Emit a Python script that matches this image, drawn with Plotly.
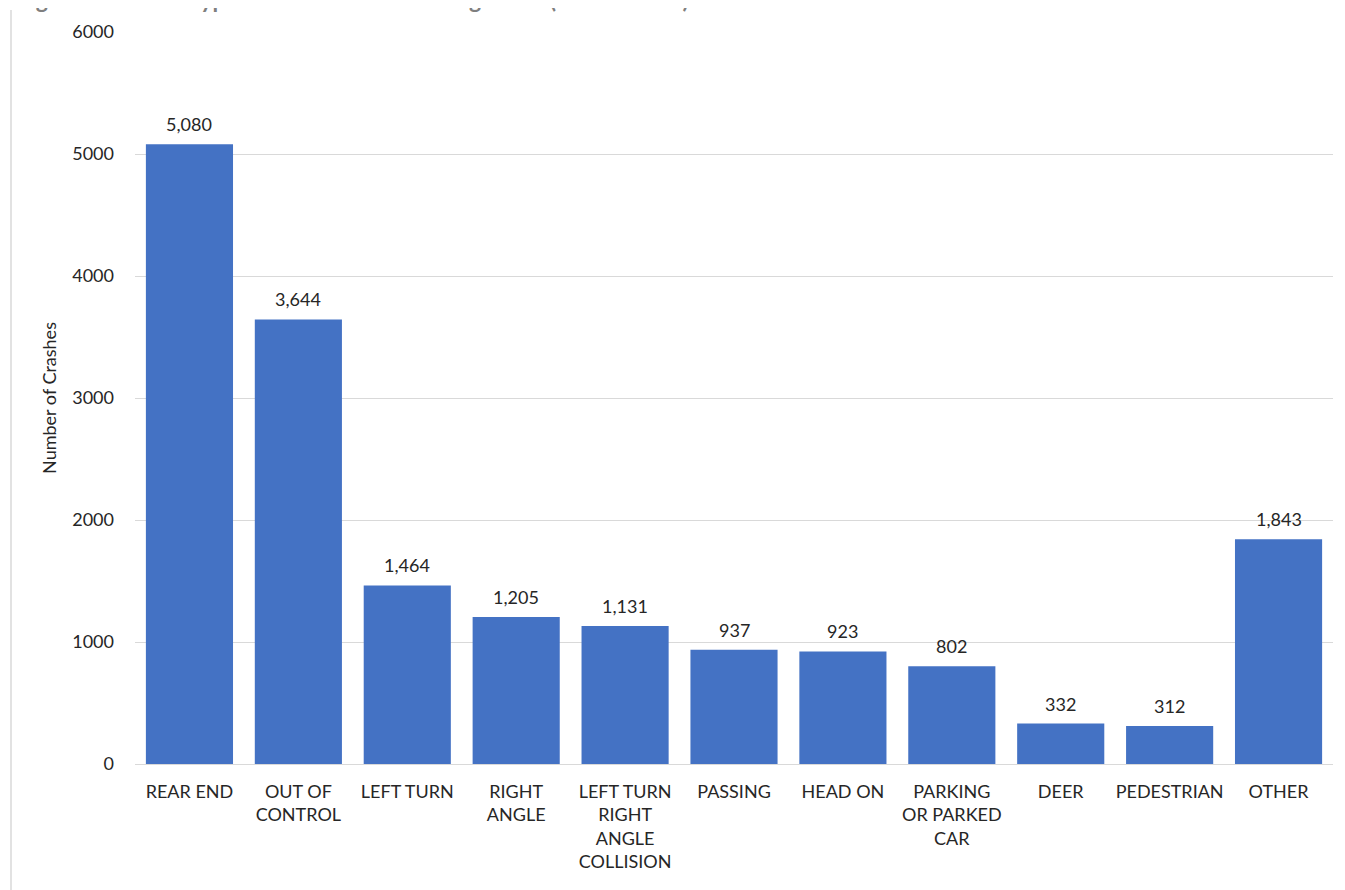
import plotly.graph_objects as go

categories = ["REAR END", "OUT OF<br>CONTROL", "LEFT TURN", "RIGHT<br>ANGLE",
              "LEFT TURN<br>RIGHT<br>ANGLE<br>COLLISION", "PASSING", "HEAD ON",
              "PARKING<br>OR PARKED<br>CAR", "DEER", "PEDESTRIAN", "OTHER"]
crashes = [5080, 3644, 1464, 1205, 1131, 937, 923, 802, 332, 312, 1843]
y_ticks = [0, 1000, 2000, 3000, 4000, 5000, 6000]
title_text = "Figure 12: Crash Types on Rural Trunkline Segments (2014 - 2018)"

FONT = "Lato, 'Open Sans', sans-serif"

fig = go.Figure()
fig.add_trace(go.Bar(x=categories, y=crashes, marker_color="#4472c4",
                     marker_line_width=0, hoverinfo="x+y"))

for c, v in zip(categories, crashes):
    fig.add_annotation(x=c, y=v, text=f"{v:,}", showarrow=False,
                       yanchor="bottom", yshift=7,
                       font=dict(family=FONT, size=18, color="#262626"))

# partially visible (cut-off) title at the very top
fig.add_annotation(xref="paper", yref="paper", x=-0.1, y=1.0,
                   xanchor="left", yanchor="bottom", yshift=17,
                   showarrow=False, text=f"<b>{title_text}</b>",
                   font=dict(family=FONT, size=23, color="#7f7f7f"))

fig.add_shape(type="line", xref="paper", yref="paper",
              x0=-0.1035, x1=-0.1035, y0=1.03, y1=-0.2,
              line=dict(color="#d9d9d9", width=1.5))

fig.update_layout(
    width=1345, height=890,
    margin=dict(l=127, r=20, t=21, b=134),
    paper_bgcolor="white", plot_bgcolor="white",
    bargap=0.2,
    showlegend=False,
    font=dict(family=FONT, size=18, color="#262626"),
    xaxis=dict(tickfont=dict(size=18, color="#262626"), showline=False,
               showgrid=False, ticks="", ticklabelstandoff=15),
    yaxis=dict(range=[0, 6000], tickvals=y_ticks, showgrid=True,
               gridcolor="#d9d9d9", gridwidth=1, zeroline=True,
               zerolinecolor="#d9d9d9", zerolinewidth=1,
               tickfont=dict(size=18, color="#262626"), ticks="",
               ticklabelstandoff=20,
               title=dict(text="Number of Crashes", standoff=10,
                          font=dict(size=18, color="#262626"))),
)

fig.write_html("out.html")
